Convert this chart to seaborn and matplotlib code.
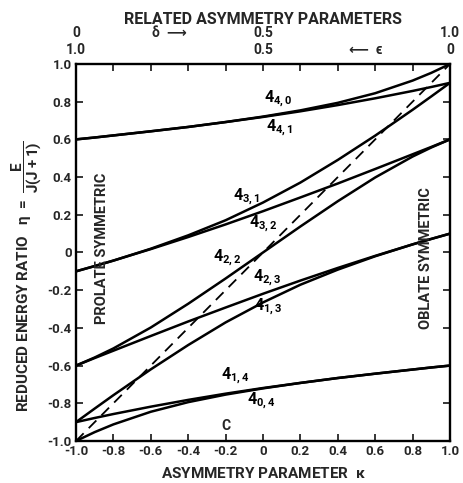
import matplotlib
matplotlib.use("Agg")
import matplotlib.pyplot as plt
import seaborn as sns
import pandas as pd

# kappa grid
kappa = [-1.0, -0.9, -0.8, -0.6, -0.4, -0.2, 0.0, 0.2, 0.4, 0.6, 0.8, 0.9, 1.0]

# reduced energy ratio for each J=4 level
e_4_40 = [0.600, 0.610, 0.621, 0.643, 0.666, 0.692, 0.721, 0.754, 0.794, 0.845, 0.912, 0.953, 1.000]
e_4_41 = [0.600, 0.610, 0.621, 0.643, 0.666, 0.692, 0.719, 0.749, 0.782, 0.818, 0.857, 0.878, 0.900]
e_4_31 = [-0.100, -0.072, -0.043, 0.020, 0.091, 0.171, 0.265, 0.371, 0.491, 0.620, 0.757, 0.828, 0.900]
e_4_32 = [-0.100, -0.072, -0.043, 0.018, 0.082, 0.149, 0.219, 0.292, 0.366, 0.443, 0.521, 0.560, 0.600]
e_4_22 = [-0.600, -0.557, -0.509, -0.398, -0.272, -0.138, 0.000, 0.138, 0.272, 0.398, 0.509, 0.557, 0.600]
e_4_23 = [-0.600, -0.560, -0.521, -0.443, -0.366, -0.292, -0.219, -0.149, -0.082, -0.018, 0.043, 0.072, 0.100]
e_4_13 = [-0.900, -0.828, -0.757, -0.620, -0.491, -0.371, -0.265, -0.171, -0.091, -0.020, 0.043, 0.072, 0.100]
e_4_14 = [-0.900, -0.878, -0.857, -0.818, -0.782, -0.749, -0.719, -0.692, -0.666, -0.643, -0.621, -0.610, -0.600]
e_4_04 = [-1.000, -0.953, -0.912, -0.845, -0.794, -0.754, -0.721, -0.692, -0.666, -0.643, -0.621, -0.610, -0.600]

levels = {"4_40": e_4_40, "4_41": e_4_41, "4_31": e_4_31, "4_32": e_4_32,
          "4_22": e_4_22, "4_23": e_4_23, "4_13": e_4_13, "4_14": e_4_14,
          "4_04": e_4_04}

# dashed reference line
diag_x = [-1.0, 1.0]
diag_y = [-1.0, 1.0]

# level labels: (text, kappa, eta)
label_text = [r"$4_{4,0}$", r"$4_{4,1}$", r"$4_{3,1}$",
              r"$4_{3,2}$", r"$4_{2,2}$", r"$4_{2,3}$",
              r"$4_{1,3}$", r"$4_{1,4}$", r"$4_{0,4}$"]
label_k = [0.08, 0.09, -0.09, 0.00, -0.19, 0.02, 0.03, -0.15, -0.01]
label_e = [0.81, 0.66, 0.29, 0.15, -0.03, -0.135, -0.29, -0.655, -0.79]

x_ticks = [-1.0, -0.8, -0.6, -0.4, -0.2, 0.0, 0.2, 0.4, 0.6, 0.8, 1.0]
x_ticklabels = ["-1.0", "-0.8", "-0.6", "-0.4", "-0.2", "0", "0.2", "0.4", "0.6", "0.8", "1.0"]
y_ticks = x_ticks
y_ticklabels = x_ticklabels

sns.set_style("ticks")
plt.rcParams["font.family"] = ["Roboto", "DejaVu Sans"]
plt.rcParams["mathtext.fontset"] = "custom"
plt.rcParams["mathtext.rm"] = "Roboto:bold"
plt.rcParams["mathtext.it"] = "Roboto:bold"
plt.rcParams["mathtext.bf"] = "Roboto:bold"
plt.rcParams["font.weight"] = "bold"

fig = plt.figure(figsize=(4.64, 4.83), dpi=100)
ax = fig.add_axes([0.1638, 0.087, 0.806, 0.7805])

for name, vals in levels.items():
    df = pd.DataFrame({"kappa": kappa, "eta": vals})
    sns.lineplot(data=df, x="kappa", y="eta", color="black", linewidth=1.8,
                 estimator=None, sort=False, ax=ax)

sns.lineplot(x=diag_x, y=diag_y, color="black", linewidth=1.3, ax=ax,
             linestyle=(0, (6, 4)))

for t, k, e in zip(label_text, label_k, label_e):
    ax.text(k, e, t, fontsize=11.5, ha="center", va="center", color="black")

ax.text(-0.2, -0.92, "C", fontsize=10, ha="center", va="center")
ax.text(-0.86, 0.02, "PROLATE SYMMETRIC", rotation=90, fontsize=10.5,
        fontweight="bold", ha="center", va="center")
ax.text(0.87, -0.03, "OBLATE SYMMETRIC", rotation=90, fontsize=10.5,
        fontweight="bold", ha="center", va="center")

ax.set_xlim(-1, 1)
ax.set_ylim(-1, 1)
ax.set_xticks(x_ticks)
ax.set_xticklabels(x_ticklabels, fontsize=9.5, fontweight="bold")
ax.set_yticks(y_ticks)
ax.set_yticklabels(y_ticklabels, fontsize=9.5, fontweight="bold")
ax.tick_params(direction="in", top=True, right=True, length=5, width=1.3, pad=3)
for s in ax.spines.values():
    s.set_linewidth(1.7)
    s.set_color("black")

ax.set_xlabel(r"ASYMMETRY PARAMETER  $\kappa$", fontsize=11, fontweight="bold", labelpad=6)
ax.set_ylabel("")
fig.text(27 / 464, 1 - 276 / 483,
         r"REDUCED ENERGY RATIO   $\eta\ =\ \dfrac{E}{J(J+1)}$",
         rotation=90, fontsize=11, fontweight="bold", ha="center", va="center")

# top related parameters
tr = ax.get_xaxis_transform()
row1 = [(-1.0, "0"), (-0.5, "δ  ⟶"), (0.0, "0.5"), (1.0, "1.0")]
row2 = [(-1.0, "1.0"), (0.55, "⟵  ϵ"), (0.0, "0.5"), (1.0, "0")]
for k, t in row1:
    ax.text(k, 1.082, t, transform=tr, fontsize=10, fontweight="bold", ha="center", va="center")
for k, t in row2:
    ax.text(k, 1.037, t, transform=tr, fontsize=10, fontweight="bold", ha="center", va="center")
ax.text(0.0, 1.118, "RELATED ASYMMETRY PARAMETERS", transform=tr, fontsize=11.5,
        fontweight="bold", ha="center", va="center")

fig.savefig("out.png", dpi=100)
